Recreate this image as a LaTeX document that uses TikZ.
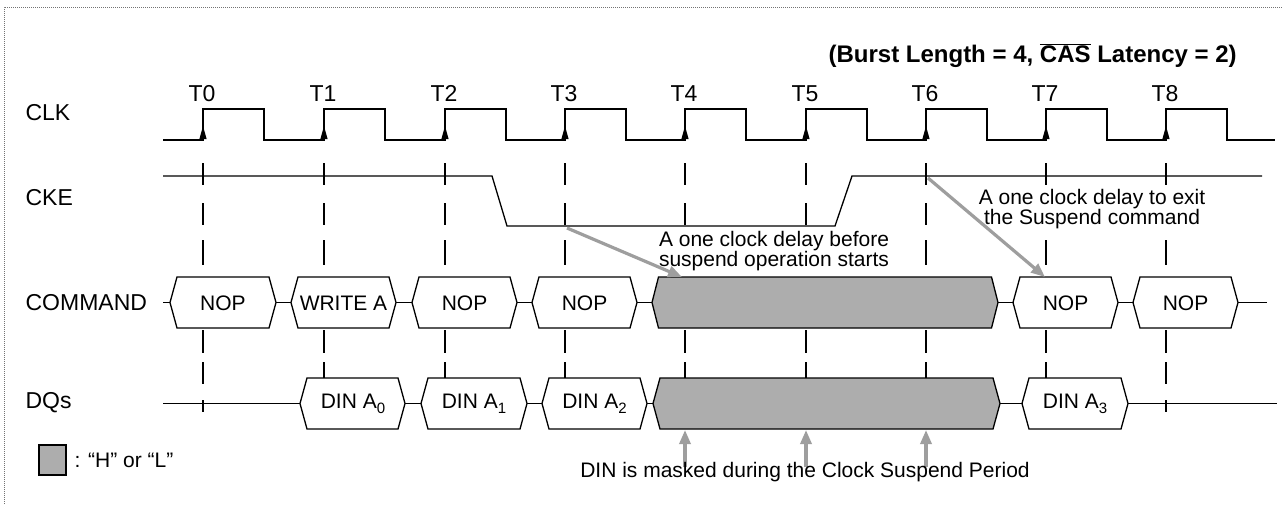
\documentclass[tikz,border=0pt]{standalone}
\usepackage{fontspec}
\setmainfont{Liberation Sans}
\usetikzlibrary{arrows.meta}
\newcommand\hexpath[5]{% left point, right point, mid y, style, slant
  \draw[#4] (#1,#3) -- (#1+#5,#3-25.5) -- (#2-#5,#3-25.5) -- (#2,#3) -- (#2-#5,#3+25.5) -- (#1+#5,#3+25.5) -- cycle;}
\newcommand\subs[1]{\raisebox{-0.45ex}{\fontsize{15}{15}\selectfont #1}}
\begin{document}
\begin{tikzpicture}[x=1pt,y=-1pt,line width=1.2pt,
  lbl/.style={font=\fontsize{23}{23}\selectfont,anchor=west,inner sep=0},
  tl/.style={font=\fontsize{23}{23}\selectfont,inner sep=0,anchor=base},
  bt/.style={font=\fontsize{21}{21}\selectfont,inner sep=0},
  ann/.style={font=\fontsize{21}{18}\selectfont,align=center,inner sep=1pt,fill=white},
  wave/.style={line width=1.3pt},
  box/.style={line width=1.3pt,fill=white},
  sbox/.style={line width=1.3pt,fill=black!32},
  hatch/.style={line width=3.2pt,draw=black!38,-{Triangle[length=14pt,width=11pt,fill=black!38]}},
  border/.style={densely dotted,line width=1pt,draw=black!55}]
\useasboundingbox (0,0) rectangle (1282,504);
% frame
\draw[border] (4,504) -- (4,7) -- (1282,7);
% title
\node[font=\bfseries\fontsize{24}{24}\selectfont,anchor=west,inner sep=0] (title) at (828,56)
  {(Burst Length = 4, $\overline{\hbox{CAS}}$ Latency = 2)};
% signal labels
\node[lbl] (lclk) at (25,113) {CLK};
\node[lbl] (lcke) at (25,198) {CKE};
\node[lbl] (lcmd) at (25,303) {COMMAND};
\node[lbl] (ldq) at (25,403) {DQs};
% clock labels and dashed guide lines
\foreach \x [count=\i from 0] in {203,324,445,565,685,806,926,1046,1166} {
  \node[tl] (t\i) at (\x-1,101) {T\i};
  \coordinate (e\i) at (\x,140);
  \fill (\x,126) -- (\x-3.6,139) -- (\x+3.6,139) -- cycle;
  \foreach \a/\b in {163/185,203/225,240/265,330/353,362/384,400/412}
    \draw (\x,\a) -- (\x,\b);
}
% CLK
\draw[wave] (163,140) foreach \x in {203,324,445,565,685,806,926,1046,1166} {
  -- (\x,140) -- (\x,109) -- (\x+61,109) -- (\x+61,140) } -- (1275,140);
% CKE
\draw[wave] (163,176) -- (492,176) -- (507,226) -- (835,226) -- (852,176) -- (1262,176);
% COMMAND bus
\draw[wave] (163,302.5) -- (1267,302.5);
\hexpath{170}{276}{302.5}{box}{7}
\hexpath{291}{396}{302.5}{box}{7}
\hexpath{412}{517}{302.5}{box}{7}
\hexpath{532}{637}{302.5}{box}{7}
\hexpath{652}{998}{302.5}{sbox}{6.5}
\hexpath{1013}{1118}{302.5}{box}{7}
\hexpath{1133}{1238}{302.5}{box}{7}
\node[bt] (c0) at (223,303) {NOP};
\node[bt] (c1) at (343.5,303) {WRITE A};
\node[bt] (c2) at (464.5,303) {NOP};
\node[bt] (c3) at (584.5,303) {NOP};
\node[bt] (c7) at (1065.5,303) {NOP};
\node[bt] (c8) at (1185.5,303) {NOP};
% DQ bus
\draw[wave] (163,403.5) -- (1277,403.5);
\hexpath{300}{405}{403.5}{box}{7}
\hexpath{421}{527}{403.5}{box}{7}
\hexpath{542}{647}{403.5}{box}{7}
\hexpath{653}{1000}{403.5}{sbox}{7}
\hexpath{1022}{1128}{403.5}{box}{7}
\node[bt] (d0) at (353,404) {DIN A\subs{0}};
\node[bt] (d1) at (474,404) {DIN A\subs{1}};
\node[bt] (d2) at (594.5,404) {DIN A\subs{2}};
\node[bt] (d3) at (1075,404) {DIN A\subs{3}};
% legend
\draw[sbox,line width=1.2pt] (39,445) rectangle (66,475);
\node[bt,anchor=west] (leg) at (74,460) {: “H” or “L”};
% annotations
\node[ann] (abefore) at (774,251) {A one clock delay before\\suspend operation starts};
\node[ann] (aexit) at (1092,209) {A one clock delay to exit\\the Suspend command};
\coordinate (s1) at (567,228);
\coordinate (s1e) at (682,277);
\coordinate (s2) at (928,178);
\coordinate (s2e) at (1045,277);
\draw[hatch] (s1) -- (s1e);
\draw[hatch] (s2) -- (s2e);
\foreach \x/\n in {685/a,806/b,926/c} {
  \coordinate (m\n) at (\x,467);
  \coordinate (m\n e) at (\x,430);
  \draw[hatch] (m\n) -- (m\n e);
}
\node[bt] (amask) at (805,472) {DIN is masked during the Clock Suspend Period};
\end{tikzpicture}
\end{document}
